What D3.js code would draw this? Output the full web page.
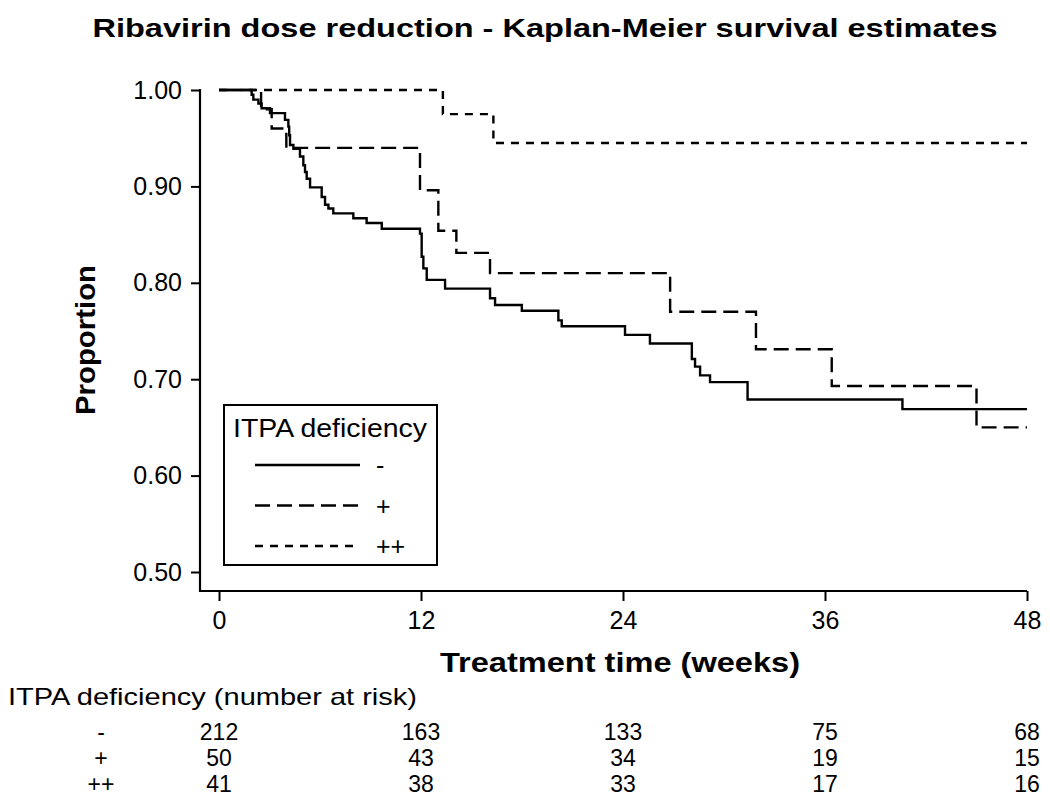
<!DOCTYPE html>
<html>
<head>
<meta charset="utf-8">
<script src="https://cdn.jsdelivr.net/npm/d3@7"></script>
<style>
  html, body { margin: 0; padding: 0; background: #fff; }
  svg { display: block; }
  text { font-family: "Liberation Sans", Arial, Helvetica, sans-serif; fill: #000; }
</style>
</head>
<body>
<svg id="chart" width="1050" height="803"></svg>
<script>
// ---- Data ----
const title = "Ribavirin dose reduction - Kaplan-Meier survival estimates";
const xLabel = "Treatment time (weeks)";
const yLabel = "Proportion";
const legendTitle = "ITPA deficiency";
const riskHeader = "ITPA deficiency (number at risk)";

const xTicks = [0, 12, 24, 36, 48];
const yTicks = [0.50, 0.60, 0.70, 0.80, 0.90, 1.00];
const groups = ["-", "+", "++"];

// "-" group (solid)
const timesNeg = [0, 1.94, 2.04, 2.34, 2.53, 3.03, 3.92, 4.12, 4.17, 4.22, 4.42, 4.81, 5.01, 5.11, 5.21, 5.41,
  6.10, 6.30, 6.50, 6.79, 7.98, 8.77, 9.67, 11.94, 12.04, 12.14, 12.34, 13.43, 16.10, 16.40, 17.99,
  20.16, 20.36, 24.12, 25.60, 28.09, 28.28, 28.58, 29.17, 31.40, 40.60, 48];
const survNeg = [1.000, 0.995, 0.990, 0.986, 0.981, 0.976, 0.969, 0.962, 0.953, 0.943, 0.939, 0.931, 0.922, 0.915, 0.908, 0.899,
  0.889, 0.881, 0.877, 0.872, 0.867, 0.862, 0.856, 0.851, 0.827, 0.815, 0.803, 0.794, 0.784, 0.777, 0.771,
  0.761, 0.755, 0.746, 0.737, 0.721, 0.713, 0.704, 0.697, 0.679, 0.669, 0.669];

// "+" group (dashed)
const timesPlus = [0, 2.5, 3.13, 4.0, 11.94, 13.03, 14.10, 16.10, 26.80, 31.90, 36.40, 45.00, 48];
const survPlus = [1.000, 0.980, 0.960, 0.940, 0.896, 0.854, 0.831, 0.810, 0.770, 0.731, 0.693, 0.650, 0.650];

// "++" group (short dashes)
const timesPP = [0, 13.3, 16.3, 48];
const survPP = [1.000, 0.975, 0.945, 0.945];

// Number at risk
const riskNeg = [212, 163, 133, 75, 68];
const riskPlus = [50, 43, 34, 19, 15];
const riskPP = [41, 38, 33, 17, 16];

// ---- Chart ----
const svg = d3.select("#chart");
svg.append("rect").attr("width", 1050).attr("height", 803).attr("fill", "#fff");

const x = d3.scaleLinear().domain([0, 48]).range([219, 1027]);
const y = d3.scaleLinear().domain([0.5, 1.0]).range([572, 90]);
const axisY0 = 200, axisX0 = 591;

// Title
svg.append("text")
  .attr("x", 545).attr("y", 37)
  .attr("text-anchor", "middle")
  .attr("font-size", 25).attr("font-weight", "bold")
  .attr("textLength", 905).attr("lengthAdjust", "spacingAndGlyphs")
  .text(title);

// Axis lines
svg.append("path")
  .attr("d", `M${axisY0},${y(1.0) - 1}V${axisX0}H${x(48)}`)
  .attr("fill", "none").attr("stroke", "#000").attr("stroke-width", 2.2);

// Y axis
const yAxis = svg.append("g")
  .attr("transform", `translate(${axisY0},0)`)
  .call(d3.axisLeft(y).tickValues(yTicks).tickFormat(d3.format(".2f")).tickSize(9).tickPadding(9));
yAxis.select(".domain").remove();
yAxis.selectAll(".tick line").attr("stroke", "#000").attr("stroke-width", 2);
yAxis.selectAll(".tick text").attr("font-size", 25).attr("font-family", "Liberation Sans, Arial, sans-serif");

// X axis
const xAxis = svg.append("g")
  .attr("transform", `translate(0,${axisX0})`)
  .call(d3.axisBottom(x).tickValues(xTicks).tickFormat(d3.format("d")).tickSize(10).tickPadding(10));
xAxis.select(".domain").remove();
xAxis.selectAll(".tick line").attr("stroke", "#000").attr("stroke-width", 2);
xAxis.selectAll(".tick text").attr("font-size", 25).attr("font-family", "Liberation Sans, Arial, sans-serif");

// Axis titles
svg.append("text")
  .attr("transform", "translate(95,340) rotate(-90)")
  .attr("text-anchor", "middle")
  .attr("font-size", 27).attr("font-weight", "bold")
  .attr("textLength", 150).attr("lengthAdjust", "spacingAndGlyphs")
  .text(yLabel);

svg.append("text")
  .attr("x", 620).attr("y", 672)
  .attr("text-anchor", "middle")
  .attr("font-size", 27).attr("font-weight", "bold")
  .attr("textLength", 360).attr("lengthAdjust", "spacingAndGlyphs")
  .text(xLabel);

// Curves
const series = [
  { name: groups[0], t: timesNeg, s: survNeg, dash: null },
  { name: groups[1], t: timesPlus, s: survPlus, dash: "15,7" },
  { name: groups[2], t: timesPP, s: survPP, dash: "8,7" }
];
const line = d3.line().x(d => x(d[0])).y(d => y(d[1])).curve(d3.curveStepAfter);

svg.append("g").selectAll("path")
  .data(series.slice().reverse())
  .join("path")
  .attr("d", d => line(d.t.map((t, i) => [t, d.s[i]])))
  .attr("fill", "none")
  .attr("stroke", "#000")
  .attr("stroke-width", 2.4)
  .attr("stroke-dasharray", d => d.dash);

// Legend
const lg = svg.append("g");
lg.append("rect")
  .attr("x", 224).attr("y", 405).attr("width", 213).attr("height", 160)
  .attr("fill", "#fff").attr("stroke", "#000").attr("stroke-width", 2);
lg.append("text")
  .attr("x", 233).attr("y", 437)
  .attr("font-size", 25)
  .attr("textLength", 194).attr("lengthAdjust", "spacingAndGlyphs")
  .text(legendTitle);
const legendY = d3.scalePoint().domain(groups).range([465, 546]);
series.forEach(s => {
  lg.append("line")
    .attr("x1", 255).attr("x2", 360)
    .attr("y1", legendY(s.name)).attr("y2", legendY(s.name))
    .attr("stroke", "#000").attr("stroke-width", 2.4)
    .attr("stroke-dasharray", s.dash);
  lg.append("text")
    .attr("x", 376).attr("y", legendY(s.name) + 9)
    .attr("font-size", 25)
    .text(s.name);
});

// Risk table
svg.append("text")
  .attr("x", 8).attr("y", 705)
  .attr("font-size", 24)
  .attr("textLength", 409).attr("lengthAdjust", "spacingAndGlyphs")
  .text(riskHeader);

const riskRows = [riskNeg, riskPlus, riskPP];
const rowY = d3.scalePoint().domain(groups).range([740, 792]);
groups.forEach((g, gi) => {
  svg.append("text")
    .attr("x", 101).attr("y", rowY(g))
    .attr("text-anchor", "middle")
    .attr("font-size", 23)
    .text(g);
  svg.append("g").selectAll("text")
    .data(riskRows[gi])
    .join("text")
    .attr("x", (d, i) => x(xTicks[i]))
    .attr("y", rowY(g))
    .attr("text-anchor", "middle")
    .attr("font-size", 23)
    .text(d => d);
});
</script>
</body>
</html>
